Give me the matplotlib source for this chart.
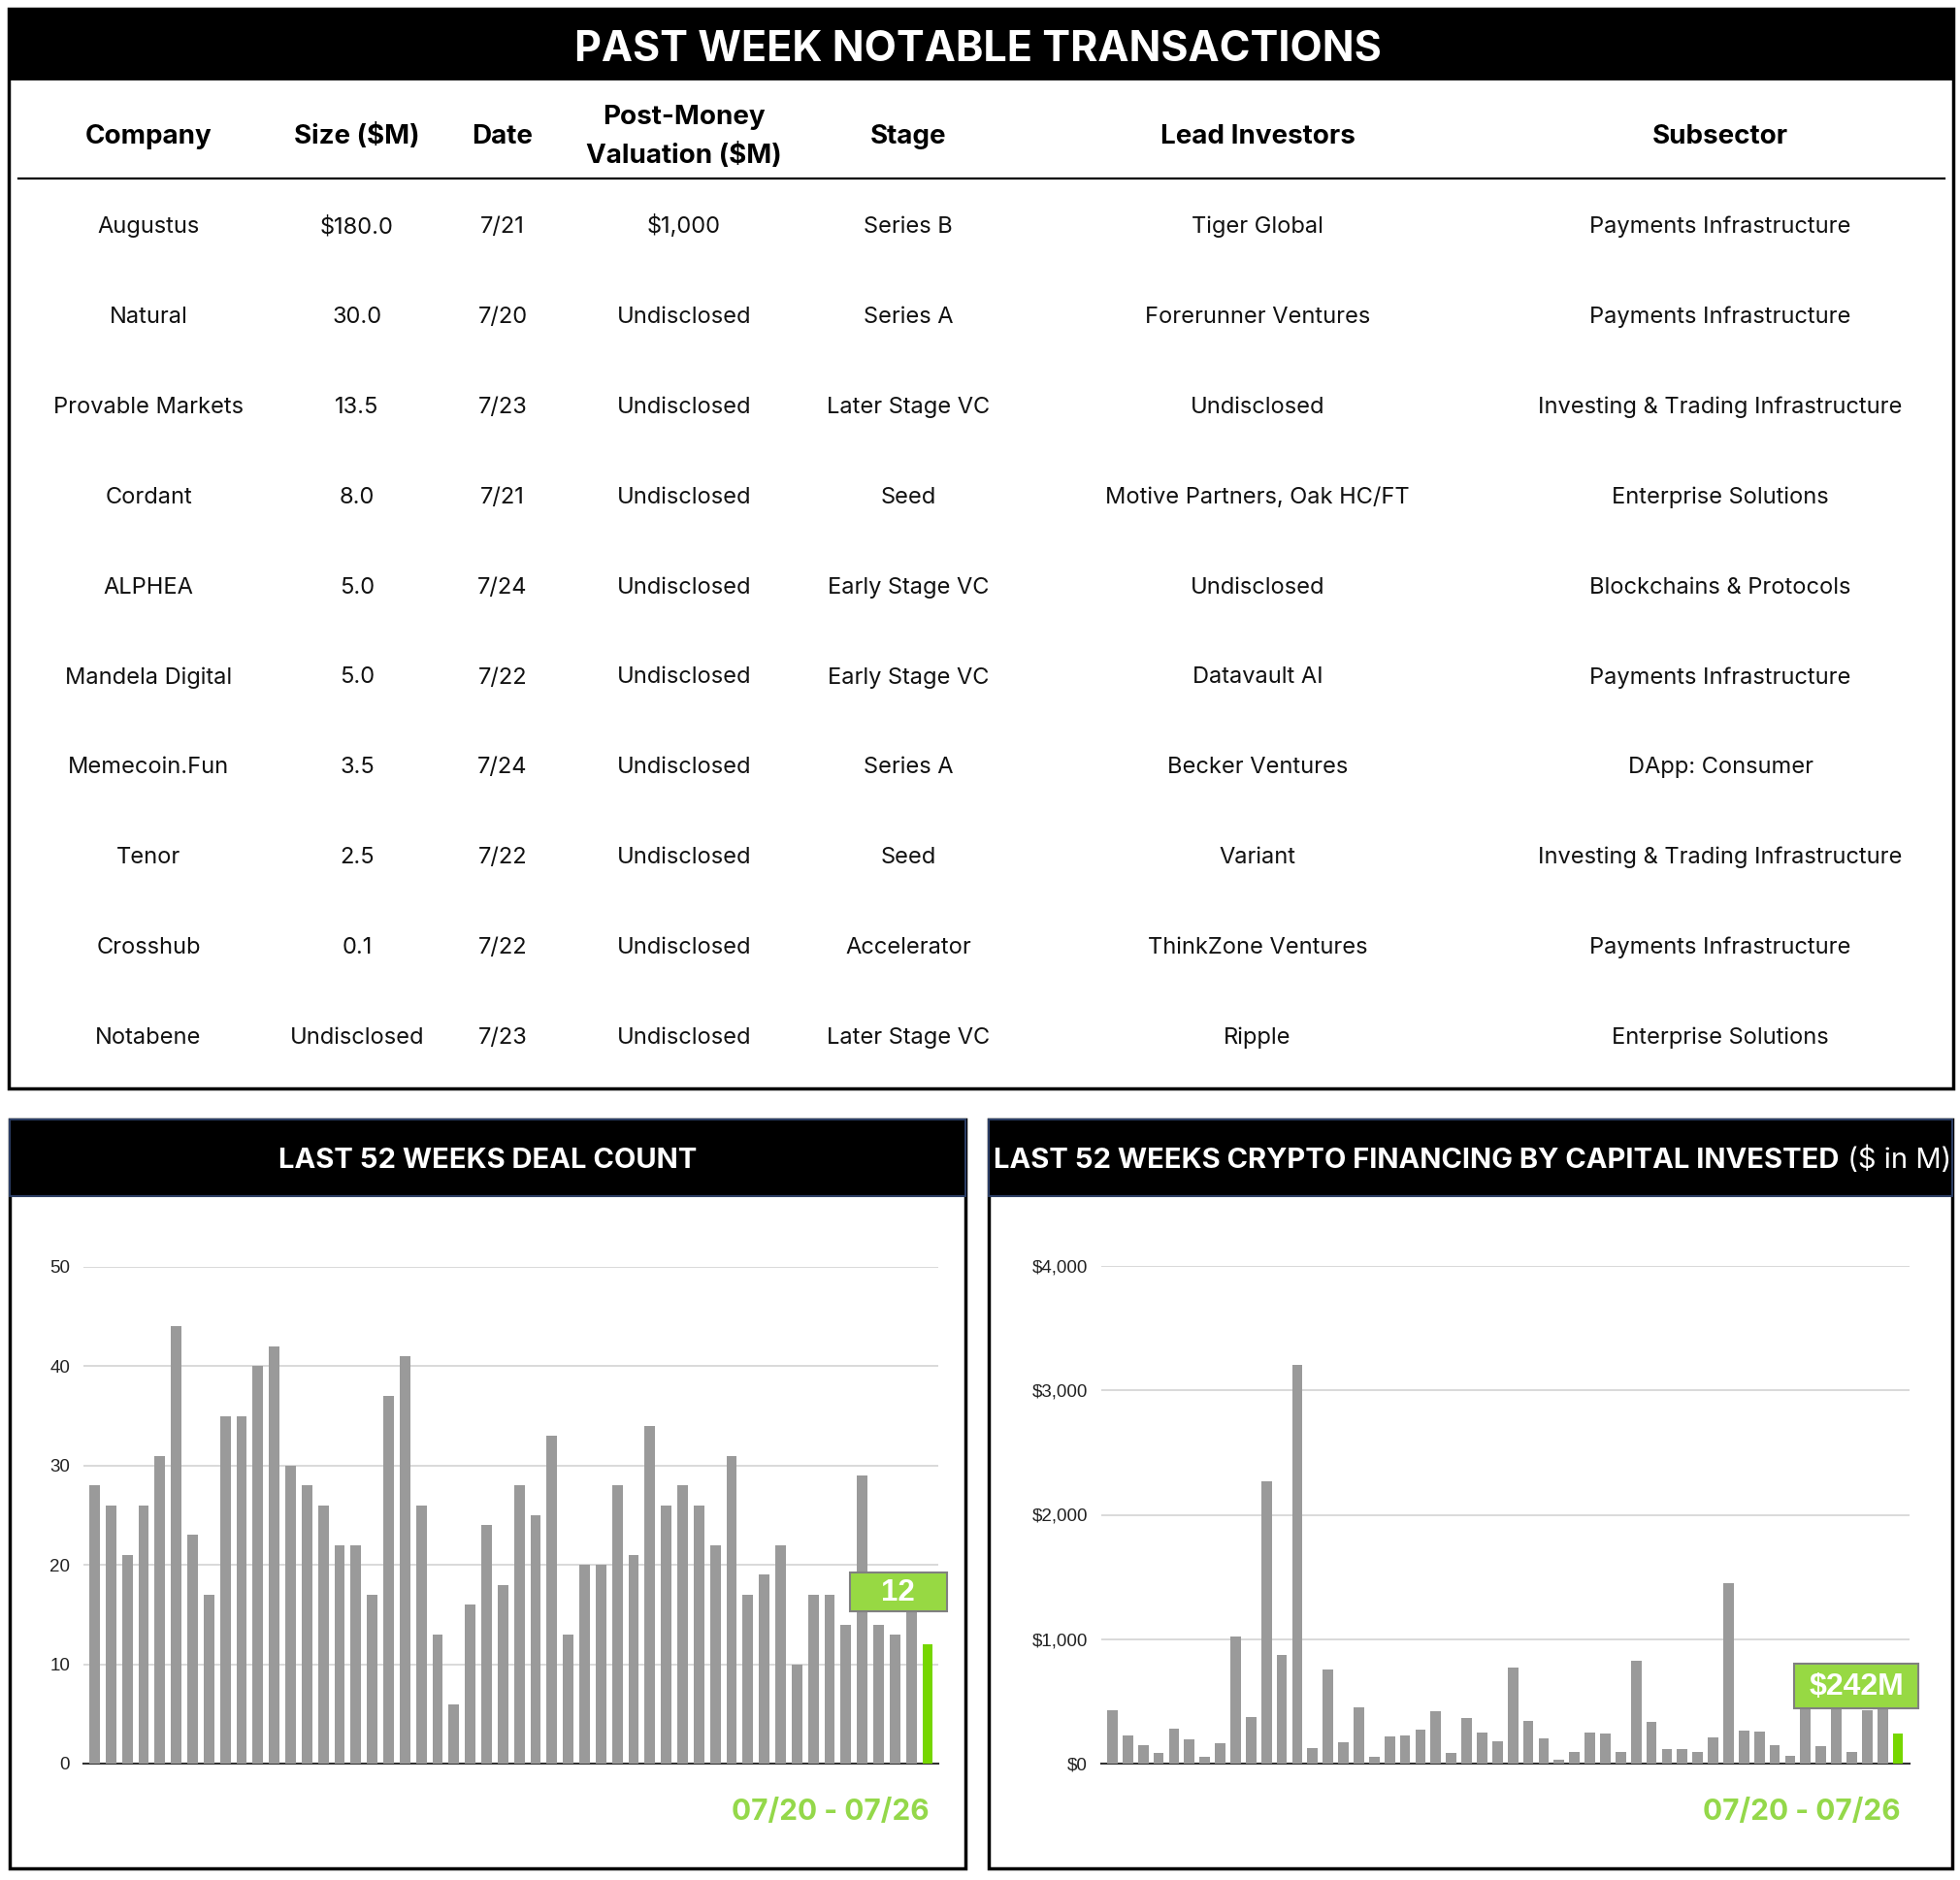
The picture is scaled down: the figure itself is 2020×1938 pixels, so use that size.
import matplotlib
matplotlib.use("Agg")
import matplotlib.pyplot as plt
from matplotlib.patches import Rectangle
import numpy as np

# ---------------- data ----------------
title = "PAST WEEK NOTABLE TRANSACTIONS"
headers = ["Company", "Size ($M)", "Date", "Post-Money\nValuation ($M)", "Stage", "Lead Investors", "Subsector"]
companies = ["Augustus", "Natural", "Provable Markets", "Cordant", "ALPHEA", "Mandela Digital",
             "Memecoin.Fun", "Tenor", "Crosshub", "Notabene"]
sizes = ["$180.0", "30.0", "13.5", "8.0", "5.0", "5.0", "3.5", "2.5", "0.1", "Undisclosed"]
dates = ["7/21", "7/20", "7/23", "7/21", "7/24", "7/22", "7/24", "7/22", "7/22", "7/23"]
valuations = ["$1,000"] + ["Undisclosed"] * 9
stages = ["Series B", "Series A", "Later Stage VC", "Seed", "Early Stage VC", "Early Stage VC",
          "Series A", "Seed", "Accelerator", "Later Stage VC"]
lead_investors = ["Tiger Global", "Forerunner Ventures", "Undisclosed", "Motive Partners, Oak HC/FT",
                  "Undisclosed", "Datavault AI", "Becker Ventures", "Variant", "ThinkZone Ventures", "Ripple"]
subsectors = ["Payments Infrastructure", "Payments Infrastructure", "Investing & Trading Infrastructure",
              "Enterprise Solutions", "Blockchains & Protocols", "Payments Infrastructure",
              "DApp: Consumer", "Investing & Trading Infrastructure", "Payments Infrastructure",
              "Enterprise Solutions"]

deal_counts = [28, 26, 21, 26, 31, 44, 23, 17, 35, 35, 40, 42, 30, 28, 26, 22, 22, 17, 37, 41,
               26, 13, 6, 16, 24, 18, 28, 25, 33, 13, 20, 20, 28, 21, 34, 26, 28, 26, 22, 31,
               17, 19, 22, 10, 17, 17, 14, 29, 14, 13, 17, 12]
capital = [431, 227, 148, 84, 280, 196, 53, 162, 1025, 378, 2269, 871, 3207, 126, 759, 174,
           451, 53, 216, 227, 272, 423, 84, 367, 249, 182, 773, 345, 202, 31, 92, 249, 238,
           92, 826, 333, 118, 118, 92, 213, 1448, 269, 258, 148, 59, 500, 137, 560, 92, 431,
           480, 242]
deal_ticks = [0, 10, 20, 30, 40, 50]
cap_ticks = [0, 1000, 2000, 3000, 4000]
cap_tick_labels = ["$0", "$1,000", "$2,000", "$3,000", "$4,000"]
week_label = "07/20 - 07/26"
deal_title = "LAST 52 WEEKS DEAL COUNT"
cap_title_bold = "LAST 52 WEEKS CRYPTO FINANCING BY CAPITAL INVESTED"
cap_title_reg = " ($ in M)"

# ---------------- style ----------------
W, H = 2020, 1938
GREY = "#9a9a9a"
GREEN_BAR = "#76d600"
GREEN_BOX = "#97d943"
GREEN_TXT = "#94d84a"
FONT = ["Inter", "DejaVu Sans"]
ARIAL = ["Liberation Sans", "DejaVu Sans"]

fig = plt.figure(figsize=(W / 100, H / 100), dpi=100)
bg = fig.add_axes([0, 0, 1, 1], zorder=0)
bg.set_xlim(0, W)
bg.set_ylim(H, 0)
bg.axis("off")

# ---- table panel ----
bg.add_patch(Rectangle((9, 9), 2004, 1113, facecolor="white", edgecolor="black", lw=2.5))
bg.add_patch(Rectangle((9, 9), 2004, 72, facecolor="black", edgecolor="black", lw=2))
bg.text(1008, 63, title, color="white", fontsize=31, fontweight="bold", family=FONT,
        ha="center", va="baseline")

col_x = [153, 368, 518, 705, 936, 1296, 1773]
for x, h in zip(col_x, headers):
    if "\n" in h:
        l1, l2 = h.split("\n")
        bg.text(x, 128, l1, fontsize=20, fontweight="bold", family=FONT, ha="center", va="baseline")
        bg.text(x, 168, l2, fontsize=20, fontweight="bold", family=FONT, ha="center", va="baseline")
    else:
        bg.text(x, 148, h, fontsize=20, fontweight="bold", family=FONT, ha="center", va="baseline")
bg.plot([19, 2004], [184, 184], color="black", lw=1.6)

cols = [companies, sizes, dates, valuations, stages, lead_investors, subsectors]
for r in range(len(companies)):
    y = 240 + r * 92.9
    for x, col in zip(col_x, cols):
        bg.text(x, y, col[r], fontsize=17, family=FONT, ha="center", va="baseline", color="#111111")

# ---- chart panels ----
def panel(x0, x1, ttl_bold, ttl_reg=None):
    bg.add_patch(Rectangle((x0, 1154), x1 - x0, 1926 - 1154, facecolor="white", edgecolor="black", lw=2.5))
    bg.add_patch(Rectangle((x0, 1154), x1 - x0, 79, facecolor="black", edgecolor="#2b3d63", lw=1.5))
    cx = (x0 + x1) / 2
    yb = 1204
    if ttl_reg is None:
        bg.text(cx, yb, ttl_bold, color="white", fontsize=21, fontweight="bold", family=FONT,
                ha="center", va="baseline")
    else:
        fig.canvas.draw()
        r = fig.canvas.get_renderer()
        tb = bg.text(0, yb, ttl_bold, color="white", fontsize=21, fontweight="bold", family=FONT,
                     ha="left", va="baseline")
        tr = bg.text(0, yb, ttl_reg, color="white", fontsize=21, family=FONT, ha="left", va="baseline")
        wb = tb.get_window_extent(r).width
        wr = tr.get_window_extent(r).width
        start = cx - (wb + wr) / 2 + 2
        tb.set_x(start)
        tr.set_x(start + wb)

panel(10, 995, deal_title)
panel(1019, 2012, cap_title_bold, cap_title_reg)

def bar_axes(left, right, top, bottom):
    ax = fig.add_axes([left / W, 1 - bottom / H, (right - left) / W, (bottom - top) / H], zorder=2)
    ax.patch.set_alpha(0)
    for s in ["top", "right", "left"]:
        ax.spines[s].set_visible(False)
    ax.spines["bottom"].set_color("#333333")
    ax.spines["bottom"].set_linewidth(1.5)
    ax.tick_params(axis="both", length=0)
    ax.set_xticks([])
    ax.grid(axis="y", color="#d0d0d0", lw=1.1)
    ax.set_axisbelow(True)
    return ax

# left chart
ax1 = bar_axes(86, 967, 1306, 1818)
x = np.arange(len(deal_counts))
colors1 = [GREY] * (len(deal_counts) - 1) + [GREEN_BAR]
ax1.bar(x, deal_counts, width=0.64, color=colors1, zorder=3)
ax1.set_xlim(-0.68, len(deal_counts) - 1 + 0.65)
ax1.set_ylim(0, 50)
ax1.set_yticks(deal_ticks)
ax1.set_yticklabels([str(t) for t in deal_ticks], fontsize=13.5, family=ARIAL, color="#222222")
ax1.tick_params(axis="y", pad=10)

# right chart
ax2 = bar_axes(1135, 1968, 1305, 1818)
x2 = np.arange(len(capital))
colors2 = [GREY] * (len(capital) - 1) + [GREEN_BAR]
ax2.bar(x2, capital, width=0.68, color=colors2, zorder=3)
ax2.set_xlim(-0.72, len(capital) - 1 + 0.75)
ax2.set_ylim(0, 4000)
ax2.set_yticks(cap_ticks)
ax2.set_yticklabels(cap_tick_labels, fontsize=13.5, family=ARIAL, color="#222222")
ax2.tick_params(axis="y", pad=10)

# overlay value boxes and week labels (drawn on top of chart axes)
top = fig.add_axes([0, 0, 1, 1], zorder=5)
top.set_xlim(0, W)
top.set_ylim(H, 0)
top.axis("off")

def value_box(x0, y0, w, h, txt, size, tx=None):
    top.add_patch(Rectangle((x0, y0), w, h, facecolor=GREEN_BOX, edgecolor="#808080", lw=1.5, zorder=6))
    cx = x0 + w / 2 if tx is None else tx
    top.text(cx, y0 + h / 2 + 1, txt, ha="center", va="center", fontsize=size,
             fontweight="bold", color="white", family=ARIAL, zorder=7)

value_box(876, 1621, 100, 40, str(deal_counts[-1]), 22.5, tx=925)
value_box(1849, 1715, 128, 46, "$%dM" % capital[-1], 23)
top.text(958, 1868, week_label, ha="right", va="center", fontsize=21.5, fontweight="bold",
         color=GREEN_TXT, family=FONT)
top.text(1959, 1868, week_label, ha="right", va="center", fontsize=21.5, fontweight="bold",
         color=GREEN_TXT, family=FONT)

fig.savefig("out.png", dpi=100)
